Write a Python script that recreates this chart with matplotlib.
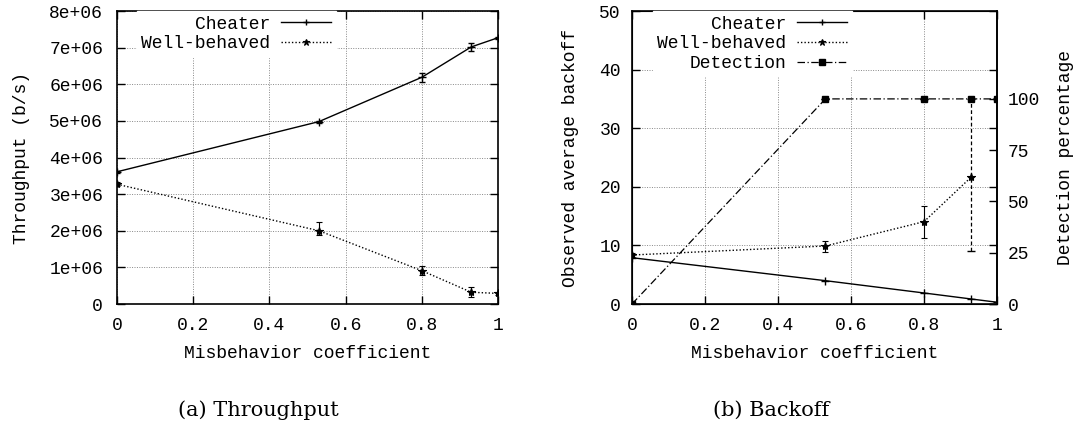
import matplotlib
matplotlib.use('Agg')
from matplotlib import pyplot as plt
from matplotlib.lines import Line2D

plt.rcParams['font.family'] = 'Liberation Mono'
plt.rcParams['font.size'] = 13

# misbehavior coefficient values
coef = [0.0, 0.53, 0.8, 0.93, 1.0]

# (a) throughput in b/s
thr_cheater = [3.61e6, 4.98e6, 6.19e6, 7.02e6, 7.27e6]
thr_cheater_err = [0.03e6, 0.03e6, 0.12e6, 0.10e6, 0.03e6]
thr_well = [3.27e6, 2.00e6, 0.91e6, 0.32e6, 0.29e6]
thr_well_lo = [0.05e6, 0.12e6, 0.13e6, 0.12e6, 0.04e6]
thr_well_hi = [0.05e6, 0.25e6, 0.12e6, 0.14e6, 0.04e6]
thr_ticks = [0, 1e6, 2e6, 3e6, 4e6, 5e6, 6e6, 7e6, 8e6]
thr_labels = ['0', '1e+06', '2e+06', '3e+06', '4e+06', '5e+06', '6e+06', '7e+06', '8e+06']

# (b) backoff and detection
bo_cheater = [7.9, 3.98, 1.88, 0.85, 0.3]
coef_well = [0.0, 0.53, 0.8, 0.93]
bo_well = [8.36, 9.9, 14.05, 21.7]
bo_well_lo = [0.3, 1.0, 2.75, 0.0]
bo_well_hi = [0.3, 0.9, 2.65, 0.0]
detection = [0, 100, 100, 100, 100]
det_lo = [0, 0, 0, 74, 0]
det_hi = [0, 0, 0, 0, 0]

x_ticks = [0, 0.2, 0.4, 0.6, 0.8, 1]
x_labels = ['0', '0.2', '0.4', '0.6', '0.8', '1']

DOTS = (0, (1, 1.5))
DASHDOT = (0, (6, 2, 1, 2))

W, H = 1075, 423
fig = plt.figure(figsize=(W / 100, H / 100), dpi=100)
ax1 = fig.add_axes([117 / W, 1 - 304 / H, 381 / W, 293 / H])
ax2 = fig.add_axes([632 / W, 1 - 304 / H, 365 / W, 293 / H])
ax3 = ax2.twinx()


def style(ax, ypad):
    ax.set_xlim(0, 1)
    ax.set_xticks(x_ticks)
    ax.set_xticklabels(x_labels)
    ax.grid(True, color='#888888', linestyle=DOTS, linewidth=0.7)
    ax.tick_params(direction='in', length=6, width=1, top=True, right=True, pad=9)
    ax.tick_params(axis='y', pad=ypad)
    for s in ax.spines.values():
        s.set_linewidth(1.2)
    ax.set_xlabel('Misbehavior coefficient', labelpad=8)


def make_legend(ax, handles, labels, right_px):
    return ax.legend(handles, labels, loc='upper right',
                     bbox_to_anchor=(right_px / W, 1 - 11 / H),
                     bbox_transform=fig.transFigure, markerfirst=False,
                     handlelength=2.8, handletextpad=0.6, labelspacing=0.15,
                     borderpad=0.25, borderaxespad=0, fancybox=False,
                     framealpha=1, edgecolor='white')


h_cheater = Line2D([], [], color='black', lw=1, marker='+', ms=5, mew=1)
h_well = Line2D([], [], color='black', lw=1, ls=DOTS, marker='*', ms=5, mew=0.8)
h_det = Line2D([], [], color='black', lw=0.9, ls=DASHDOT, marker='s', ms=5)

# throughput panel
style(ax1, 10)
ax1.set_ylim(0, 8e6)
ax1.set_yticks(thr_ticks)
ax1.set_yticklabels(thr_labels)
ax1.errorbar(coef, thr_cheater, yerr=thr_cheater_err, color='black', lw=1,
             marker='+', ms=6, mew=1, capsize=2, elinewidth=0.8)
ax1.errorbar(coef, thr_well, yerr=[thr_well_lo, thr_well_hi], color='black', lw=1,
             ls=DOTS, marker='*', ms=6, mew=0.8, capsize=2, elinewidth=0.8)
ax1.set_ylabel('Throughput (b/s)', labelpad=14)
make_legend(ax1, [h_cheater, h_well], ['Cheater', 'Well-behaved'], 336)

# backoff panel
style(ax2, 8)
ax2.set_ylim(0, 50)
ax2.set_yticks([0, 10, 20, 30, 40, 50])
ax2.set_ylabel('Observed average backoff', labelpad=15)
ax2.errorbar(coef, bo_cheater, color='black', lw=1, marker='+', ms=6, mew=1)
ax2.errorbar(coef_well, bo_well, yerr=[bo_well_lo, bo_well_hi], color='black', lw=1,
             ls=DOTS, marker='*', ms=6, mew=0.8, capsize=2, elinewidth=0.8)

ax3.set_ylim(0, 100 / 0.7)
ax3.set_yticks([0, 25, 50, 75, 100])
ax3.tick_params(direction='in', length=6, width=1, pad=8)
det = ax3.errorbar(coef, detection, yerr=[det_lo, det_hi], color='black', lw=0.9,
                   ls=DASHDOT, marker='s', ms=5, capsize=3, elinewidth=0.9)
det[2][0].set_linestyle((0, (3, 2)))
ax3.set_ylabel('Detection percentage', labelpad=12)
ax3.spines['right'].set_linewidth(1.2)

make_legend(ax3, [h_cheater, h_well, h_det], ['Cheater', 'Well-behaved', 'Detection'], 852)

# captions
fig.text(258 / W, 1 - 416 / H, '(a) Throughput', family='DejaVu Serif', fontsize=15,
         ha='center', va='baseline')
fig.text(771 / W, 1 - 416 / H, '(b) Backoff', family='DejaVu Serif', fontsize=15,
         ha='center', va='baseline')

fig.savefig('out.png', dpi=100)
